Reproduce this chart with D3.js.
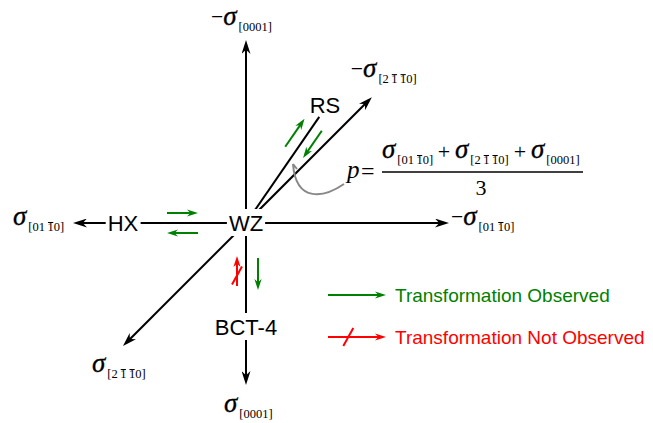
<!DOCTYPE html>
<html>
<head>
<meta charset="utf-8">
<script src="https://cdn.jsdelivr.net/npm/d3@7"></script>
<style>body{margin:0;background:#fff}</style>
</head>
<body>
<svg id="chart" width="653" height="423"></svg>
<script>
// stress axes, angle in degrees (counter-clockwise from +x), reach = arrow length from WZ
const axisAngles  = [90, 45, 0, -90, 225, 180];
const axisReach   = [183, 178, 203, 162, 174, 173];
const axisSigns   = ["−", "−", "−", "", "", ""];
// "^" puts a bar over the next digit
const axisIndices = ["[0001]", "[2\u2009^1\u2009^10]", "[01\u2009^10]", "[0001]", "[2\u2009^1\u2009^10]", "[01\u2009^10]"];

// phases around WZ
const phaseNames  = ["WZ", "HX", "RS", "BCT-4"];
const phaseAngles = [0, 180, 56.1, -90];
const phaseDist   = [0, 123, 141.6, 104];

// line from WZ to RS
const branchAngle = 55.4, branchReach = 129;

// transformation arrows: direction, from/to distance, sideways shift, observed?
const moveAngles = [180, 180, 55.4, 55.4, -90, -90];
const moveFrom   = [79, 48, 85, 119, 63, 35];
const moveTo     = [48, 79, 119, 86, 33, 67];
const moveSide   = [-10, 10, 11, -10, -9, 12];
const moveSeen   = [true, true, true, true, false, true];

const legendLabels = ["Transformation Observed", "Transformation Not Observed"];
const legendSeen   = [true, false];

const formulaIndices = ["[01\u2009^10]", "[2\u2009^1\u2009^10]", "[0001]"];

const width = 653, height = 423;
const serif = "'Liberation Serif', 'Times New Roman', serif";
const sans = "'Liberation Sans', Arial, sans-serif";
const green = "#008000", red = "#ff0000";

const svg = d3.select("#chart");

// diagram units: WZ at origin, y up
const x = d3.scaleLinear().domain([-246, 407]).range([0, width]);
const y = d3.scaleLinear().domain([-200, 223]).range([height, 0]);
const rad = a => a * Math.PI / 180;
const pt = (a, r, side = 0) => [
    x(r * Math.cos(rad(a)) - side * Math.sin(rad(a))),
    y(r * Math.sin(rad(a)) + side * Math.cos(rad(a)))
];

const defs = svg.append("defs");
const marker = (id, color, len, half) => {
    defs.append("marker")
    .attr("id", id)
    .attr("viewBox", `${-len} ${-half} ${len} ${half * 2}`)
    .attr("refX", -4)
    .attr("refY", 0)
    .attr("markerWidth", len)
    .attr("markerHeight", half * 2)
    .attr("markerUnits", "userSpaceOnUse")
    .attr("orient", "auto")
    .append("path")
    .attr("d", `M0,0 L${-len},${-half} L${-len * 0.7},0 L${-len},${half} Z`)
    .attr("fill", color);
};
marker("headBlack", "#000", 14, 4.5);
marker("headGreen", green, 11, 3.6);
marker("headRed", red, 11, 3.6);

// pull a line end back so the marker tip lands on the point
const shorten = (p0, p1, d) => {
    const dx = p1[0] - p0[0], dy = p1[1] - p0[1], L = Math.hypot(dx, dy);
    return [p1[0] - dx / L * d, p1[1] - dy / L * d];
};

// axes
axisAngles.forEach((a, i) => {
    const p0 = pt(a, 0), p1 = shorten(p0, pt(a, axisReach[i]), 4);
    svg.append("line")
    .attr("x1", p0[0]).attr("y1", p0[1])
    .attr("x2", p1[0]).attr("y2", p1[1])
    .attr("stroke", "#000")
    .attr("stroke-width", 2)
    .attr("marker-end", "url(#headBlack)");
});

const rsEnd = pt(branchAngle, branchReach);
svg.append("line")
.attr("x1", x(0)).attr("y1", y(0))
.attr("x2", rsEnd[0]).attr("y2", rsEnd[1])
.attr("stroke", "#000")
.attr("stroke-width", 2);

// phase names with a white knock-out behind
phaseNames.forEach((name, i) => {
    const c = pt(phaseAngles[i], phaseDist[i]);
    const g = svg.append("g");
    const t = g.append("text")
    .attr("x", c[0]).attr("y", c[1] + 8)
    .attr("text-anchor", "middle")
    .attr("font-family", sans)
    .attr("font-size", 22)
    .text(name);
    if (name !== "RS") {
        const b = t.node().getBBox();
        g.insert("rect", "text")
        .attr("x", b.x - 2).attr("y", b.y - 2)
        .attr("width", b.width + 4).attr("height", b.height + 2)
        .attr("fill", "#fff");
    }
});

// σ with a sign and a Miller-Bravais index
function sigmaLabel(g, px, py, sign, index, fs, ss) {
    const t = g.append("text")
    .attr("x", px).attr("y", py)
    .attr("font-family", serif)
    .attr("font-size", fs);
    if (sign) t.append("tspan").text(sign).attr("font-size", fs * 0.8).attr("dy", -1);
    t.append("tspan").text("σ")
    .attr("font-style", "italic")
    .attr("dy", sign ? 1 : 0)
    .attr("stroke", "#000")
    .attr("stroke-width", 0.3);
    let s = "", bars = [], over = false;
    for (const ch of index) {
        if (ch === "^") { over = true; continue; }
        if (over) bars.push(s.length);
        s += ch;
        over = false;
    }
    const base = t.node().textContent.length;
    t.append("tspan").text(s).attr("font-size", ss).attr("dx", 2).attr("dy", 6);
    bars.forEach(k => {
        const b = t.node().getExtentOfChar(base + k);
        g.append("line")
        .attr("x1", b.x + 0.5).attr("x2", b.x + b.width - 0.5)
        .attr("y1", b.y + ss * 0.2).attr("y2", b.y + ss * 0.2)
        .attr("stroke", "#000")
        .attr("stroke-width", 1);
    });
    return t;
}

const labelOffsets = [[-35, -15], [-21, -20], [2, 2], [-22, 27], [-31, 26], [-60, 2]];
axisAngles.forEach((a, i) => {
    const tip = pt(a, axisReach[i]);
    sigmaLabel(svg.append("g"), tip[0] + labelOffsets[i][0], tip[1] + labelOffsets[i][1],
        axisSigns[i], axisIndices[i], 27, 12.5);
});

// transformation arrows
const slash = (g, p0, p1) => {
    const m = [p0[0] + (p1[0] - p0[0]) * 0.35, p0[1] + (p1[1] - p0[1]) * 0.35];
    g.append("line")
    .attr("x1", m[0] - 5).attr("y1", m[1] + 9)
    .attr("x2", m[0] + 5).attr("y2", m[1] - 9)
    .attr("stroke", red)
    .attr("stroke-width", 2);
};
const moveArrow = (p0, p1, seen) => {
    const g = svg.append("g");
    const e = shorten(p0, p1, 4);
    g.append("line")
    .attr("x1", p0[0]).attr("y1", p0[1])
    .attr("x2", e[0]).attr("y2", e[1])
    .attr("stroke", seen ? green : red)
    .attr("stroke-width", 2)
    .attr("marker-end", seen ? "url(#headGreen)" : "url(#headRed)");
    if (!seen) slash(g, p0, p1);
};
moveAngles.forEach((a, i) => {
    moveArrow(pt(a, moveFrom[i], moveSide[i]), pt(a, moveTo[i], moveSide[i]), moveSeen[i]);
});

// legend
legendLabels.forEach((label, i) => {
    const ly = 295 + i * 42;
    moveArrow([328, ly], [386, ly], legendSeen[i]);
    svg.append("text")
    .attr("x", 395).attr("y", ly + 7)
    .attr("font-family", sans)
    .attr("font-size", 19)
    .attr("fill", legendSeen[i] ? green : red)
    .text(label);
});

// pressure formula
const fg = svg.append("g");
fg.append("path")
.attr("d", "M344,184 C325,197 296,204 293,164 M293,164 L297,169")
.attr("fill", "none")
.attr("stroke", "#888")
.attr("stroke-width", 2);
fg.append("text")
.attr("x", 347).attr("y", 178)
.attr("font-family", serif).attr("font-size", 25)
.attr("font-style", "italic")
.text("p");
fg.append("text")
.attr("x", 361).attr("y", 179)
.attr("font-family", serif).attr("font-size", 24)
.text("=");
const termX = [382, 455, 531];
const plusX = [444, 520];
formulaIndices.forEach((idx, i) => {
    sigmaLabel(fg, termX[i], 158, "", idx, 27, 12.5);
});
plusX.forEach(px => {
    fg.append("text")
    .attr("x", px).attr("y", 159)
    .attr("text-anchor", "middle")
    .attr("font-family", serif).attr("font-size", 22)
    .text("+");
});
fg.append("line")
.attr("x1", 382).attr("x2", 583)
.attr("y1", 172).attr("y2", 172)
.attr("stroke", "#000").attr("stroke-width", 1.5);
fg.append("text")
.attr("x", 481).attr("y", 195)
.attr("text-anchor", "middle")
.attr("font-family", serif).attr("font-size", 22)
.text("3");
</script>
</body>
</html>
